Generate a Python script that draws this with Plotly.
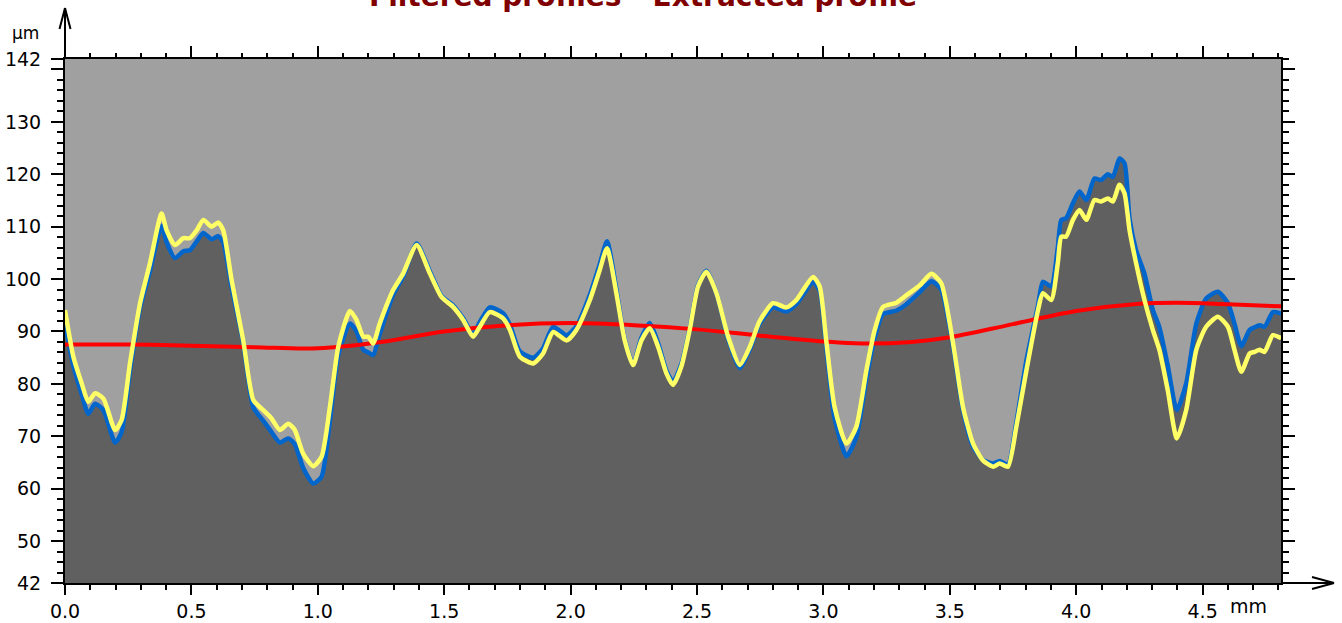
import plotly.graph_objects as go

# ---------------- data ----------------
x_mm = [0.000, 0.033, 0.066, 0.092, 0.119, 0.152, 0.198, 0.224, 0.257, 0.297,
        0.336, 0.382, 0.402, 0.435, 0.468, 0.494, 0.521, 0.547, 0.580, 0.606,
        0.626, 0.659, 0.705, 0.745, 0.784, 0.817, 0.850, 0.883, 0.909, 0.942,
        0.982, 1.015, 1.048, 1.081, 1.127, 1.153, 1.180, 1.200, 1.219, 1.245,
        1.298, 1.338, 1.391, 1.443, 1.489, 1.535, 1.575, 1.614, 1.641, 1.680,
        1.733, 1.760, 1.799, 1.852, 1.891, 1.931, 1.984, 2.023, 2.076, 2.115,
        2.144, 2.181, 2.214, 2.247, 2.280, 2.313, 2.346, 2.379, 2.405, 2.438,
        2.471, 2.504, 2.537, 2.577, 2.623, 2.669, 2.709, 2.748, 2.801, 2.853,
        2.893, 2.959, 2.985, 3.011, 3.044, 3.091, 3.130, 3.170, 3.203, 3.236,
        3.289, 3.328, 3.381, 3.427, 3.466, 3.513, 3.552, 3.592, 3.631, 3.671,
        3.697, 3.730, 3.763, 3.803, 3.849, 3.868, 3.901, 3.927, 3.941, 3.960,
        3.987, 4.013, 4.040, 4.072, 4.098, 4.125, 4.145, 4.171, 4.191, 4.211,
        4.237, 4.270, 4.303, 4.329, 4.362, 4.398, 4.435, 4.475, 4.514, 4.560,
        4.600, 4.626, 4.653, 4.686, 4.705, 4.725, 4.745, 4.778, 4.811]

extracted = [91.5, 83.5, 78.0, 74.3, 76.2, 75.0, 68.8, 70.8, 82.5, 94.5,
             101.5, 110.2, 107.0, 104.0, 105.3, 105.5, 107.2, 108.8, 107.6, 108.2,
             107.0, 98.5, 87.8, 75.5, 73.0, 70.8, 68.8, 69.6, 68.5, 64.0,
             61.0, 62.3, 73.0, 85.5, 91.5, 90.0, 86.5, 86.0, 85.5, 89.5,
             97.0, 100.5, 106.8, 101.5, 96.8, 95.0, 92.5, 89.5, 91.8, 94.6,
             93.5, 91.3, 86.2, 85.0, 86.8, 90.9, 89.3, 91.0, 97.0, 102.8,
             107.2, 98.0, 88.5, 83.8, 88.8, 91.6, 87.8, 82.5, 80.4, 83.8,
             90.5, 98.8, 101.6, 97.3, 88.6, 83.0, 86.6, 91.5, 94.6, 93.8,
             95.2, 99.4, 97.8, 87.0, 73.5, 66.2, 69.8, 81.0, 88.8, 93.3,
             94.0, 95.2, 97.5, 99.6, 98.0, 87.0, 75.0, 68.0, 65.5, 64.8,
             65.3, 64.6, 72.6, 84.5, 95.0, 99.5, 98.6, 106.0, 111.3, 111.6,
             114.5, 116.7, 115.1, 119.2, 118.9, 120.0, 119.5, 123.0, 122.1, 111.5,
             105.5, 101.0, 94.1, 90.8, 83.5, 75.0, 80.1, 91.5, 96.3, 97.6,
             95.4, 91.5, 87.2, 90.3, 90.8, 91.2, 90.9, 93.7, 93.4]

filtered = [94.1, 85.2, 80.1, 76.6, 78.2, 77.2, 71.2, 73.1, 83.9, 95.4,
            103.0, 112.5, 109.3, 106.5, 107.8, 107.8, 109.3, 111.3, 110.0, 110.8,
            109.3, 99.8, 88.3, 76.9, 75.0, 73.4, 71.2, 72.4, 71.2, 66.7,
            64.3, 66.1, 75.6, 87.1, 93.9, 92.2, 89.0, 89.0, 87.7, 91.5,
            97.9, 101.1, 106.5, 101.1, 96.6, 94.7, 92.2, 89.0, 90.9, 93.7,
            92.5, 90.3, 85.2, 83.9, 85.8, 89.9, 88.3, 90.3, 96.0, 101.7,
            105.9, 97.3, 88.3, 83.6, 88.3, 90.6, 87.1, 82.0, 79.8, 83.3,
            90.3, 98.6, 101.4, 97.3, 89.0, 83.6, 87.1, 92.0, 95.4, 94.6,
            96.0, 100.4, 98.6, 88.3, 75.6, 68.6, 71.8, 82.6, 90.3, 94.7,
            95.5, 96.9, 98.8, 101.0, 99.2, 87.7, 75.6, 68.6, 65.4, 64.2,
            64.8, 64.2, 71.8, 82.6, 94.1, 97.3, 96.0, 103.0, 108.1, 108.1,
            111.3, 113.2, 111.3, 115.1, 114.8, 115.4, 114.8, 118.0, 116.4, 109.3,
            103.0, 96.0, 90.3, 86.5, 78.8, 69.6, 75.0, 86.5, 90.9, 92.8,
            90.9, 86.5, 82.3, 85.8, 86.1, 86.5, 86.1, 89.3, 88.7]

wave_x = [0.0, 0.25, 0.5, 0.75, 1.0, 1.25, 1.5, 1.75, 2.0, 2.25, 2.5, 2.75,
          3.0, 3.15, 3.35, 3.5, 3.75, 4.0, 4.25, 4.4, 4.6, 4.811]
waviness = [87.5, 87.5, 87.3, 87.0, 86.8, 88.0, 90.0, 91.2, 91.6, 91.2, 90.4, 89.2,
            88.1, 87.7, 88.0, 88.9, 91.4, 93.9, 95.3, 95.5, 95.2, 94.8]

x_tickvals = [0.0, 0.5, 1.0, 1.5, 2.0, 2.5, 3.0, 3.5, 4.0, 4.5]
x_ticktext = ["0.0", "0.5", "1.0", "1.5", "2.0", "2.5", "3.0", "3.5", "4.0", "4.5"]
y_tickvals = [42, 50, 60, 70, 80, 90, 100, 110, 120, 130, 140, 142]
y_ticktext = ["42", "50", "60", "70", "80", "90", "100", "110", "120", "130", "", "142"]

X_RANGE = [0, 4.81]
Y_RANGE = [42, 142]

# ---------------- figure ----------------
FONT = "DejaVu Sans"
fig = go.Figure()

fig.add_trace(go.Scatter(x=x_mm, y=extracted, mode="lines", line=dict(color="#0066CC", width=4.5, shape="spline", smoothing=0.6),
                         fill="tozeroy", fillcolor="#606060", hoverinfo="skip", showlegend=False))
fig.add_trace(go.Scatter(x=wave_x, y=waviness, mode="lines", line=dict(color="#FF0000", width=4, shape="spline"),
                         hoverinfo="skip", showlegend=False))
fig.add_trace(go.Scatter(x=x_mm, y=filtered, mode="lines", line=dict(color="#FFFF66", width=4.5, shape="spline", smoothing=0.6),
                         hoverinfo="skip", showlegend=False))
# helper trace for mirrored axes
fig.add_trace(go.Scatter(x=[X_RANGE[0]], y=[Y_RANGE[0]], xaxis="x2", yaxis="y2", mode="markers",
                         marker=dict(opacity=0), hoverinfo="skip", showlegend=False))

axis_common = dict(showgrid=False, zeroline=False, showline=True, linecolor="black", linewidth=2,
                   ticks="outside", tickcolor="black", tickwidth=2, automargin=False)

fig.update_layout(
    width=1342, height=623,
    margin=dict(l=65, r=61, t=59, b=40),
    paper_bgcolor="white", plot_bgcolor="#A0A0A0",
    font=dict(family=FONT, size=18, color="black"),
    xaxis=dict(range=X_RANGE, tickmode="array", tickvals=x_tickvals, ticktext=x_ticktext, ticklen=10,
               minor=dict(tickmode="linear", tick0=0, dtick=0.1, ticklen=5, tickwidth=1.5, ticks="outside", tickcolor="black"),
               tickfont=dict(family=FONT, size=19), ticklabelstandoff=0, **axis_common),
    yaxis=dict(range=Y_RANGE, tickmode="array", tickvals=y_tickvals, ticktext=y_ticktext, ticklen=12,
               minor=dict(tickmode="linear", tick0=42, dtick=2, ticklen=6, tickwidth=1.5, ticks="outside", tickcolor="black"),
               tickfont=dict(family=FONT, size=19), ticklabelstandoff=6, **axis_common),
    xaxis2=dict(range=X_RANGE, overlaying="x", side="top", tickmode="array", tickvals=x_tickvals, ticklen=11,
                showticklabels=False,
                minor=dict(tickmode="linear", tick0=0, dtick=0.1, ticklen=4, tickwidth=1.5, ticks="outside", tickcolor="black"),
                **axis_common),
    yaxis2=dict(range=Y_RANGE, overlaying="y", side="right", tickmode="array", tickvals=y_tickvals[1:-1], ticklen=12,
                showticklabels=False,
                minor=dict(tickmode="linear", tick0=42, dtick=2, ticklen=6, tickwidth=1.5, ticks="outside", tickcolor="black"),
                **axis_common),
)

# axis arrows (plot area: 1216 x 524 px)
W, H = 1216.0, 524.0
line_style = dict(color="black", width=2)
shapes = [
    dict(type="line", xref="paper", yref="paper", x0=0, y0=1, x1=0, y1=(583 - 8) / H, line=line_style),
    dict(type="line", xref="paper", yref="paper", x0=-5.5 / W, y0=(583 - 29) / H, x1=0, y1=(583 - 8) / H, line=line_style),
    dict(type="line", xref="paper", yref="paper", x0=5.5 / W, y0=(583 - 29) / H, x1=0, y1=(583 - 8) / H, line=line_style),
    dict(type="line", xref="paper", yref="paper", x0=1, y0=0, x1=(1334 - 65) / W, y1=0, line=line_style),
    dict(type="line", xref="paper", yref="paper", x0=(1312 - 65) / W, y0=6 / H, x1=(1334 - 65) / W, y1=0, line=line_style),
    dict(type="line", xref="paper", yref="paper", x0=(1312 - 65) / W, y0=-6 / H, x1=(1334 - 65) / W, y1=0, line=line_style),
]
fig.update_layout(shapes=shapes)

fig.add_annotation(text="µm", xref="paper", yref="paper", x=(25 - 65) / W, y=(583 - 33) / H,
                   showarrow=False, font=dict(family=FONT, size=17, color="black"), xanchor="center", yanchor="middle")
fig.add_annotation(text="mm", xref="paper", yref="paper", x=(1248 - 65) / W, y=(583 - 606) / H,
                   showarrow=False, font=dict(family=FONT, size=19, color="black"), xanchor="center", yanchor="middle")
fig.add_annotation(text="<b>Filtered profiles - Extracted profile</b>", xref="paper", yref="paper",
                   x=(643 - 65) / W, y=(583 - 14) / H, showarrow=False, borderpad=0,
                   font=dict(family=FONT, size=28, color="#800000"), xanchor="center", yanchor="bottom")

fig.write_html("out.html", config={"displayModeBar": False},
               post_script="document.body.style.margin='0';document.body.style.overflow='hidden';")
